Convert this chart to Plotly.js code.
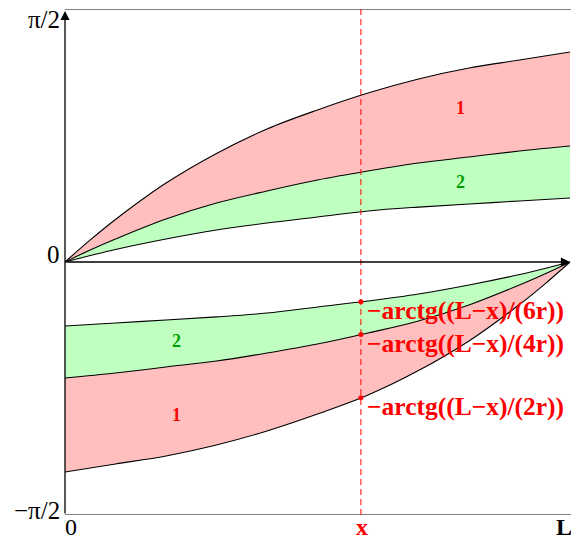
<!DOCTYPE html>
<html>
<head>
<meta charset="utf-8">
<script src="https://cdn.plot.ly/plotly-3.0.1.min.js"></script>
<style>
  html, body { margin: 0; padding: 0; background: #ffffff; }
  #plot { width: 571px; height: 542px; }
</style>
</head>
<body>
<div id="plot"></div>
<script>
const HALF_PI = Math.PI / 2;

// Positions along the span, as fractions of L
const xUpper = [0, 0.05, 0.1, 0.2, 0.3, 0.4, 0.5, 0.6, 0.7, 0.8, 0.9, 1];
// arctg(x/(2r)), arctg(x/(4r)), arctg(x/(6r)) in radians
const arctg2r = [0, 0.137, 0.264, 0.490, 0.674, 0.826, 0.944, 1.049, 1.136, 1.204, 1.254, 1.304];
const arctg4r = [0, 0.075, 0.143, 0.267, 0.366, 0.441, 0.509, 0.565, 0.615, 0.652, 0.689, 0.720];
const arctg6r = [0, 0.040, 0.078, 0.143, 0.199, 0.242, 0.279, 0.317, 0.341, 0.360, 0.379, 0.397];

const xLower = [0, 0.1, 0.2, 0.3, 0.4, 0.5, 0.6, 0.7, 0.8, 0.9, 0.95, 1];
// -arctg((L-x)/(2r)), -arctg((L-x)/(4r)), -arctg((L-x)/(6r)) in radians
const negArctg2r = [-1.304, -1.254, -1.204, -1.136, -1.049, -0.944, -0.826, -0.674, -0.490, -0.264, -0.137, 0];
const negArctg4r = [-0.720, -0.689, -0.652, -0.615, -0.565, -0.509, -0.441, -0.366, -0.267, -0.143, -0.075, 0];
const negArctg6r = [-0.397, -0.379, -0.360, -0.341, -0.317, -0.279, -0.242, -0.199, -0.143, -0.078, -0.040, 0];

// The section x where the three values are marked
const xMark = 0.586;
const markLabels = ['−arctg((L−x)/(6r))', '−arctg((L−x)/(4r))', '−arctg((L−x)/(2r))'];

// Axis labels
const xTickVals = [0, xMark, 1];
const xTickText = ['0', 'x', 'L'];
const yTickVals = [-HALF_PI, 0, HALF_PI];
const yTickText = ['−π/2', '0', 'π/2'];

// Band labels
const bandNames = ['1', '2'];

// ---------------------------------------------------------------
const PINK = 'rgb(255,191,191)';
const GREEN = 'rgb(191,255,191)';
const RED = '#ff0000';
const DARKGREEN = '#00a000';
const SERIF = '"Liberation Serif", "Times New Roman", serif';

function interp(xs, ys, x) {
  for (let i = 1; i < xs.length; i++) {
    if (x <= xs[i]) {
      const t = (x - xs[i - 1]) / (xs[i] - xs[i - 1]);
      return ys[i - 1] + t * (ys[i] - ys[i - 1]);
    }
  }
  return ys[ys.length - 1];
}

const curveLine = { color: '#000000', width: 1.1, shape: 'spline', smoothing: 1 };

function curve(x, y, fill, fillcolor) {
  return {
    type: 'scatter', mode: 'lines', x: x, y: y,
    line: curveLine, fill: fill, fillcolor: fillcolor,
    hoverinfo: 'skip', showlegend: false
  };
}

const markY = [negArctg6r, negArctg4r, negArctg2r].map(arr => interp(xLower, arr, xMark));

const traces = [
  curve(xUpper, arctg6r, 'none'),
  curve(xUpper, arctg4r, 'tonexty', GREEN),
  curve(xUpper, arctg2r, 'tonexty', PINK),
  curve(xLower, negArctg6r, 'none'),
  curve(xLower, negArctg4r, 'tonexty', GREEN),
  curve(xLower, negArctg2r, 'tonexty', PINK),
  {
    type: 'scatter', mode: 'markers',
    x: markY.map(() => xMark), y: markY,
    marker: { color: RED, size: 5 },
    hoverinfo: 'skip', showlegend: false
  }
];

const annotations = [];

// y-axis labels
const yLabelShift = [5, 8, -10];
yTickVals.forEach((v, i) => {
  annotations.push({
    xref: 'paper', x: 0, xanchor: 'right', xshift: -3,
    yref: 'y', y: v, yanchor: 'middle', yshift: yLabelShift[i],
    text: yTickText[i], showarrow: false,
    font: { family: SERIF, size: 25, color: '#000000' }
  });
});

// x-axis labels
const xLabelShift = [6, 1, -6];
const xLabelStyle = [
  { color: '#000000', weight: 'normal' },
  { color: RED, weight: 'bold' },
  { color: '#000000', weight: 'bold' }
];
xTickVals.forEach((v, i) => {
  annotations.push({
    xref: 'x', x: v, xanchor: 'center', xshift: xLabelShift[i],
    yref: 'paper', y: 0, yanchor: 'middle', yshift: -12,
    text: xTickText[i], showarrow: false,
    font: { family: SERIF, size: 24, color: xLabelStyle[i].color, weight: xLabelStyle[i].weight }
  });
});

// labels next to the marked values
markLabels.forEach((t, i) => {
  annotations.push({
    xref: 'x', x: xMark, xanchor: 'left', xshift: 4,
    yref: 'y', y: markY[i], yanchor: 'middle', yshift: -9,
    text: t, showarrow: false,
    font: { family: SERIF, size: 25.5, color: RED, weight: 'bold' }
  });
});

// band numbers
const bandSpots = [
  { x: 0.784, y: 0.956, name: 0, color: RED },
  { x: 0.784, y: 0.494, name: 1, color: DARKGREEN },
  { x: 0.220, y: -0.490, name: 1, color: DARKGREEN },
  { x: 0.220, y: -0.950, name: 0, color: RED }
];
bandSpots.forEach(b => {
  annotations.push({
    xref: 'x', x: b.x, yref: 'y', y: b.y,
    text: bandNames[b.name], showarrow: false,
    font: { family: SERIF, size: 18, color: b.color, weight: 'bold' }
  });
});

// axis arrows
annotations.push({
  xref: 'x', yref: 'y', x: 1, y: 0, axref: 'x', ayref: 'y', ax: 0, ay: 0,
  text: '', showarrow: true, arrowhead: 2, arrowsize: 1.4, arrowwidth: 1.3,
  arrowcolor: '#000000', standoff: 0, startstandoff: 0
});
annotations.push({
  xref: 'x', yref: 'y', x: 0, y: HALF_PI - 0.012, axref: 'x', ayref: 'y', ax: 0, ay: -HALF_PI,
  text: '', showarrow: true, arrowhead: 2, arrowsize: 1.4, arrowwidth: 1.3,
  arrowcolor: '#000000', standoff: 0, startstandoff: 0
});

const shapes = [
  { type: 'line', xref: 'x', yref: 'y', x0: 0, x1: 1.002, y0: HALF_PI, y1: HALF_PI,
    line: { color: '#555555', width: 1.5 } },
  { type: 'line', xref: 'x', yref: 'y', x0: 0, x1: 1.002, y0: -HALF_PI, y1: -HALF_PI,
    line: { color: '#555555', width: 1.5 } },
  { type: 'line', xref: 'x', yref: 'y', x0: xMark, x1: xMark, y0: -HALF_PI, y1: HALF_PI,
    line: { color: RED, width: 1, dash: '6px,4px' } }
];

const layout = {
  width: 571, height: 542,
  margin: { l: 65, r: 0, t: 9, b: 27, pad: 0 },
  paper_bgcolor: '#ffffff', plot_bgcolor: '#ffffff',
  showlegend: false,
  xaxis: { range: [0, 1.002], visible: false, fixedrange: true },
  yaxis: { range: [-HALF_PI, HALF_PI], visible: false, fixedrange: true },
  annotations: annotations,
  shapes: shapes
};

Plotly.newPlot('plot', traces, layout, { staticPlot: true, displayModeBar: false });
</script>
</body>
</html>
